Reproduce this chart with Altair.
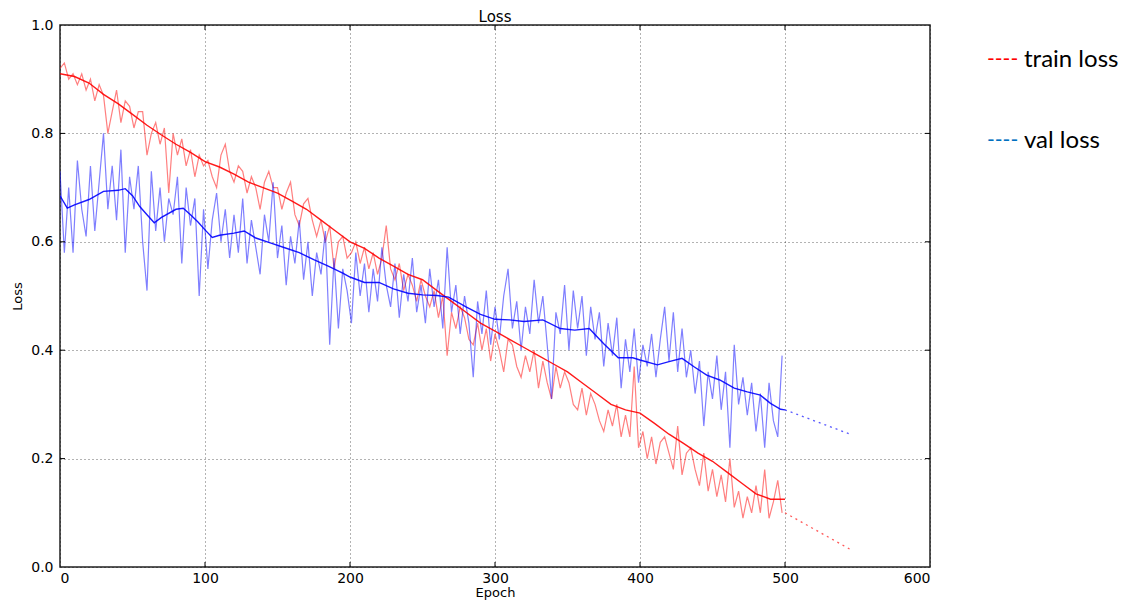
import altair as alt
import pandas as pd

# ---- data ----
raw_step = 3
train_raw = [
    .92, .93, .90, .91, .89, .91, .88, .90, .86, .89,
    .87, .80, .84, .88, .82, .86, .85, .81, .84, .84,
    .76, .80, .82, .78, .81, .69, .80, .76, .79, .74,
    .77, .72, .76, .74, .75, .72, .70, .76, .78, .73,
    .71, .74, .73, .69, .72, .70, .66, .71, .73, .70,
    .70, .66, .69, .71, .65, .63, .67, .68, .64, .61,
    .64, .60, .63, .55, .60, .61, .57, .58, .60, .56,
    .59, .55, .58, .54, .57, .63, .55, .53, .56, .51,
    .54, .52, .49, .53, .50, .48, .51, .46, .50, .39,
    .47, .44, .48, .46, .42, .41, .45, .40, .44, .38,
    .43, .40, .36, .42, .41, .37, .35, .39, .36, .40,
    .33, .38, .34, .31, .37, .33, .36, .34, .30, .29,
    .33, .28, .32, .30, .27, .25, .29, .26, .30, .24,
    .28, .24, .37, .22, .25, .20, .24, .19, .23, .24,
    .21, .18, .26, .17, .21, .22, .18, .15, .21, .14,
    .18, .13, .17, .12, .20, .11, .14, .09, .13, .10,
    .15, .10, .18, .09, .12, .16, .10,
]
val_raw = [
    .73, .58, .70, .58, .75, .66, .61, .74, .62, .71,
    .80, .66, .74, .64, .77, .58, .72, .66, .74, .60,
    .51, .73, .62, .70, .60, .68, .65, .72, .56, .70,
    .63, .68, .50, .66, .55, .64, .69, .60, .66, .57,
    .65, .58, .68, .56, .64, .59, .54, .65, .60, .71,
    .57, .63, .52, .61, .56, .64, .53, .60, .50, .58,
    .54, .62, .41, .57, .44, .55, .51, .45, .58, .50,
    .56, .47, .55, .49, .59, .52, .48, .56, .46, .54,
    .49, .57, .47, .52, .45, .55, .48, .53, .44, .59,
    .47, .52, .43, .50, .45, .35, .49, .43, .51, .41,
    .48, .42, .50, .55, .44, .49, .40, .48, .43, .53,
    .45, .50, .41, .31, .47, .43, .52, .40, .51, .44,
    .50, .39, .48, .42, .47, .37, .45, .39, .46, .33,
    .42, .36, .44, .34, .41, .37, .43, .35, .42, .48,
    .38, .47, .36, .44, .35, .40, .32, .38, .26, .36,
    .31, .39, .29, .36, .22, .41, .30, .35, .28, .34,
    .25, .32, .22, .34, .27, .24, .39,
]

train_smooth_epoch = [0, 10, 20, 30, 40, 50, 60, 70, 80, 90, 100, 110, 120, 130, 140, 150,
                      160, 170, 180, 190, 200, 210, 220, 230, 240, 250, 260, 270, 280, 290,
                      300, 310, 320, 330, 340, 350, 360, 370, 380, 390, 400, 410, 420, 430,
                      440, 450, 460, 470, 480, 490, 500]
train_smooth = [.91, .905, .893, .872, .855, .835, .815, .797, .78, .765, .748, .738, .725,
                .71, .70, .69, .675, .66, .64, .62, .60, .588, .57, .555, .54, .53, .51,
                .49, .47, .45, .435, .42, .405, .39, .375, .36, .34, .32, .30, .29, .284,
                .265, .245, .228, .21, .195, .175, .155, .135, .125, .125]

val_smooth_epoch = [0, 5, 10, 20, 30, 40, 45, 50, 55, 60, 65, 70, 80, 85, 90, 95, 100, 105,
                    110, 120, 127, 135, 145, 155, 165, 175, 185, 195, 200, 210, 220, 230,
                    240, 250, 260, 268, 280, 290, 300, 310, 320, 333, 345, 355, 365, 375,
                    385, 395, 400, 412, 420, 429, 437, 446, 455, 465, 474, 483, 490, 497, 500]
val_smooth = [.685, .662, .668, .678, .693, .695, .698, .685, .665, .65, .635, .645, .66,
              .662, .65, .637, .622, .608, .612, .616, .62, .607, .598, .589, .58, .567,
              .555, .542, .535, .525, .525, .513, .505, .502, .501, .498, .48, .466, .457,
              .456, .453, .456, .44, .437, .44, .412, .386, .386, .382, .373, .379, .385,
              .37, .354, .345, .33, .323, .317, .302, .291, .29]

train_proj_epoch = [500, 546]
train_proj = [0.10, 0.031]
val_proj_epoch = [500, 546]
val_proj = [0.29, 0.244]

x_ticks = [0, 100, 200, 300, 400, 500, 600]
y_ticks = [0.0, 0.2, 0.4, 0.6, 0.8, 1.0]

chart_title = "Loss"
legend_labels = ["train loss", "val loss"]
legend_colors = ["#ff0000", "#0070c0"]

# ---- frames ----
raw_epochs = [i * raw_step for i in range(len(train_raw))]
df_train_raw = pd.DataFrame({"epoch": raw_epochs, "loss": train_raw})
df_val_raw = pd.DataFrame({"epoch": raw_epochs[:len(val_raw)], "loss": val_raw})
df_train_s = pd.DataFrame({"epoch": train_smooth_epoch, "loss": train_smooth})
df_val_s = pd.DataFrame({"epoch": val_smooth_epoch, "loss": val_smooth})
df_train_p = pd.DataFrame({"epoch": train_proj_epoch, "loss": train_proj})
df_val_p = pd.DataFrame({"epoch": val_proj_epoch, "loss": val_proj})
df_xt = pd.DataFrame({"epoch": x_ticks[1:-1]})
df_yt = pd.DataFrame({"loss": y_ticks[1:-1]})

W, H = 870, 542
TICK = 5

x_scale = alt.Scale(domain=[0, 600], nice=False, zero=False)
y_scale = alt.Scale(domain=[0, 1], nice=False)
x_enc = alt.X("epoch:Q", scale=x_scale,
              axis=alt.Axis(values=x_ticks, format="d", title="Epoch", grid=True))
y_enc = alt.Y("loss:Q", scale=y_scale,
              axis=alt.Axis(values=y_ticks, format=".1f", title="Loss", grid=True))


def line(df, color, width, opacity=1.0, dash=None):
    kw = dict(color=color, strokeWidth=width, opacity=opacity, clip=True)
    if dash is not None:
        kw["strokeDash"] = dash
    return alt.Chart(df).mark_line(**kw).encode(x=x_enc, y=y_enc)


layers = [
    line(df_train_raw, "#ff0000", 1.2, 0.5),
    line(df_val_raw, "#0000ff", 1.2, 0.5),
    line(df_train_s, "#ff0000", 1.4, 0.9),
    line(df_val_s, "#0000ff", 1.4, 0.9),
    line(df_train_p, "#ff3030", 1.3, 0.8, [2, 4]),
    line(df_val_p, "#3030ff", 1.3, 0.8, [2, 4]),
]

# inward ticks on all four sides (matplotlib classic look)
tick_layers = [
    alt.Chart(df_xt).mark_rule(color="black", strokeWidth=1).encode(
        x=alt.X("epoch:Q", scale=x_scale), y=alt.value(H), y2=alt.value(H - TICK)),
    alt.Chart(df_xt).mark_rule(color="black", strokeWidth=1).encode(
        x=alt.X("epoch:Q", scale=x_scale), y=alt.value(0), y2=alt.value(TICK)),
    alt.Chart(df_yt).mark_rule(color="black", strokeWidth=1).encode(
        y=alt.Y("loss:Q", scale=y_scale), x=alt.value(0), x2=alt.value(TICK)),
    alt.Chart(df_yt).mark_rule(color="black", strokeWidth=1).encode(
        y=alt.Y("loss:Q", scale=y_scale), x=alt.value(W - TICK), x2=alt.value(W)),
]

# title as text above the plot
title_layer = alt.Chart(pd.DataFrame({"t": [chart_title]})).mark_text(
    align="center", baseline="middle", font="DejaVu Sans", fontSize=15, color="black"
).encode(x=alt.value(W / 2), y=alt.value(-8), text="t:N")

# legend as text, to the right of the plot
leg_rows_y = [35, 116]
leg_layers = []
for lab, col, yy in zip(legend_labels, legend_colors, leg_rows_y):
    one = pd.DataFrame({"label": [lab]})
    leg_layers.append(
        alt.Chart(one).mark_text(align="left", baseline="middle", font="Lato",
                                 fontSize=21, color=col)
        .encode(x=alt.value(927), y=alt.value(yy), text=alt.value("----"))
    )
    leg_layers.append(
        alt.Chart(one).mark_text(align="left", baseline="middle", font="Lato",
                                 fontSize=24, color="black")
        .encode(x=alt.value(964), y=alt.value(yy), text="label:N")
    )

chart = alt.layer(*layers, *tick_layers, title_layer, *leg_layers).properties(
    width=W, height=H,
    autosize=alt.AutoSizeParams(type="none"),
    padding={"left": 52, "top": 17, "right": 190, "bottom": 34},
).configure_view(
    stroke="#222222", strokeWidth=1.5
).configure_axis(
    labelFont="DejaVu Sans", labelFontSize=14, labelColor="black",
    titleFont="DejaVu Sans", titleFontSize=13, titleFontWeight="normal", titleColor="black",
    gridColor="black", gridDash=[1, 3], gridOpacity=0.6, gridWidth=1,
    domain=False, ticks=False,
).configure_axisX(labelPadding=4, titlePadding=1).configure_axisY(labelPadding=7, titlePadding=6)

chart.save("out.html", embed_options={"renderer": "svg", "actions": False})
